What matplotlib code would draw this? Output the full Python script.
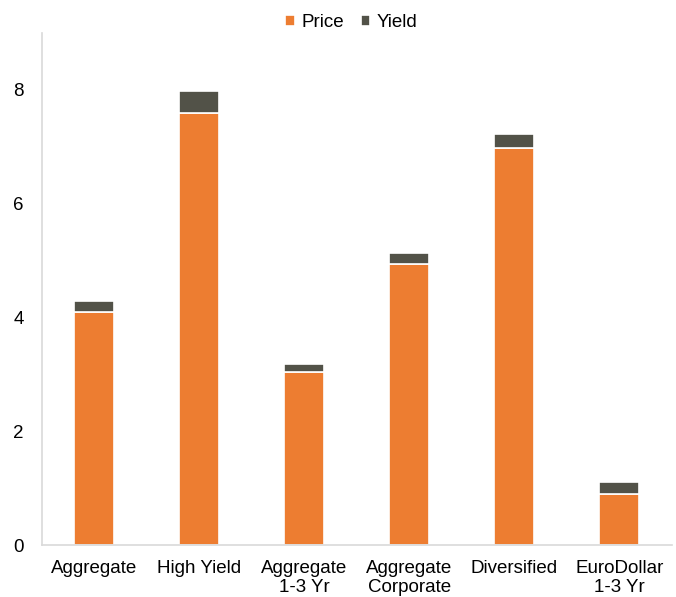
import matplotlib

matplotlib.use("Agg")

import matplotlib.pyplot as plt
import numpy as np

plt.rcParams["font.family"] = ["Liberation Sans", "DejaVu Sans"]

categories = ["Aggregate", "High Yield", "Aggregate\n1-3 Yr", "Aggregate\nCorporate", "Diversified", "EuroDollar\n1-3 Yr"]
price = [4.09, 7.59, 3.04, 4.93, 6.97, 0.89]
yield_ = [0.19, 0.38, 0.15, 0.20, 0.25, 0.21]

orange = "#ED7D31"
dark = "#525248"

fig = plt.figure(figsize=(6.76, 5.97), dpi=100)
ax = fig.add_axes([0.062, 0.087, 0.932, 0.858])

x = np.arange(len(categories))
ax.bar(x, price, width=0.38, color=orange, edgecolor="white", linewidth=1.2, label="Price")
ax.bar(x, yield_, bottom=price, width=0.38, color=dark, edgecolor="white", linewidth=1.2, label="Yield")

ax.set_xlim(-0.5, len(categories) - 0.5)
ax.set_ylim(0, 9)
ax.set_yticks([0, 2, 4, 6, 8])
ax.set_xticks(x)
ax.set_xticklabels(categories, linespacing=1.15)
ax.tick_params(axis="both", length=0, labelsize=13.5, colors="black", pad=11)
ax.tick_params(axis="y", pad=13)

for side in ["top", "right"]:
    ax.spines[side].set_visible(False)
ax.spines["left"].set_color("#d9d9d9")
ax.spines["bottom"].set_color("#d9d9d9")
ax.spines["left"].set_linewidth(1.2)
ax.spines["bottom"].set_linewidth(1.2)

fig.legend(loc="upper center", bbox_to_anchor=(0.52, 1.005), ncol=2, frameon=False,
           fontsize=13.5, handlelength=0.5, handleheight=0.5, handletextpad=0.35, columnspacing=0.9)

fig.savefig("out.png", dpi=100)
